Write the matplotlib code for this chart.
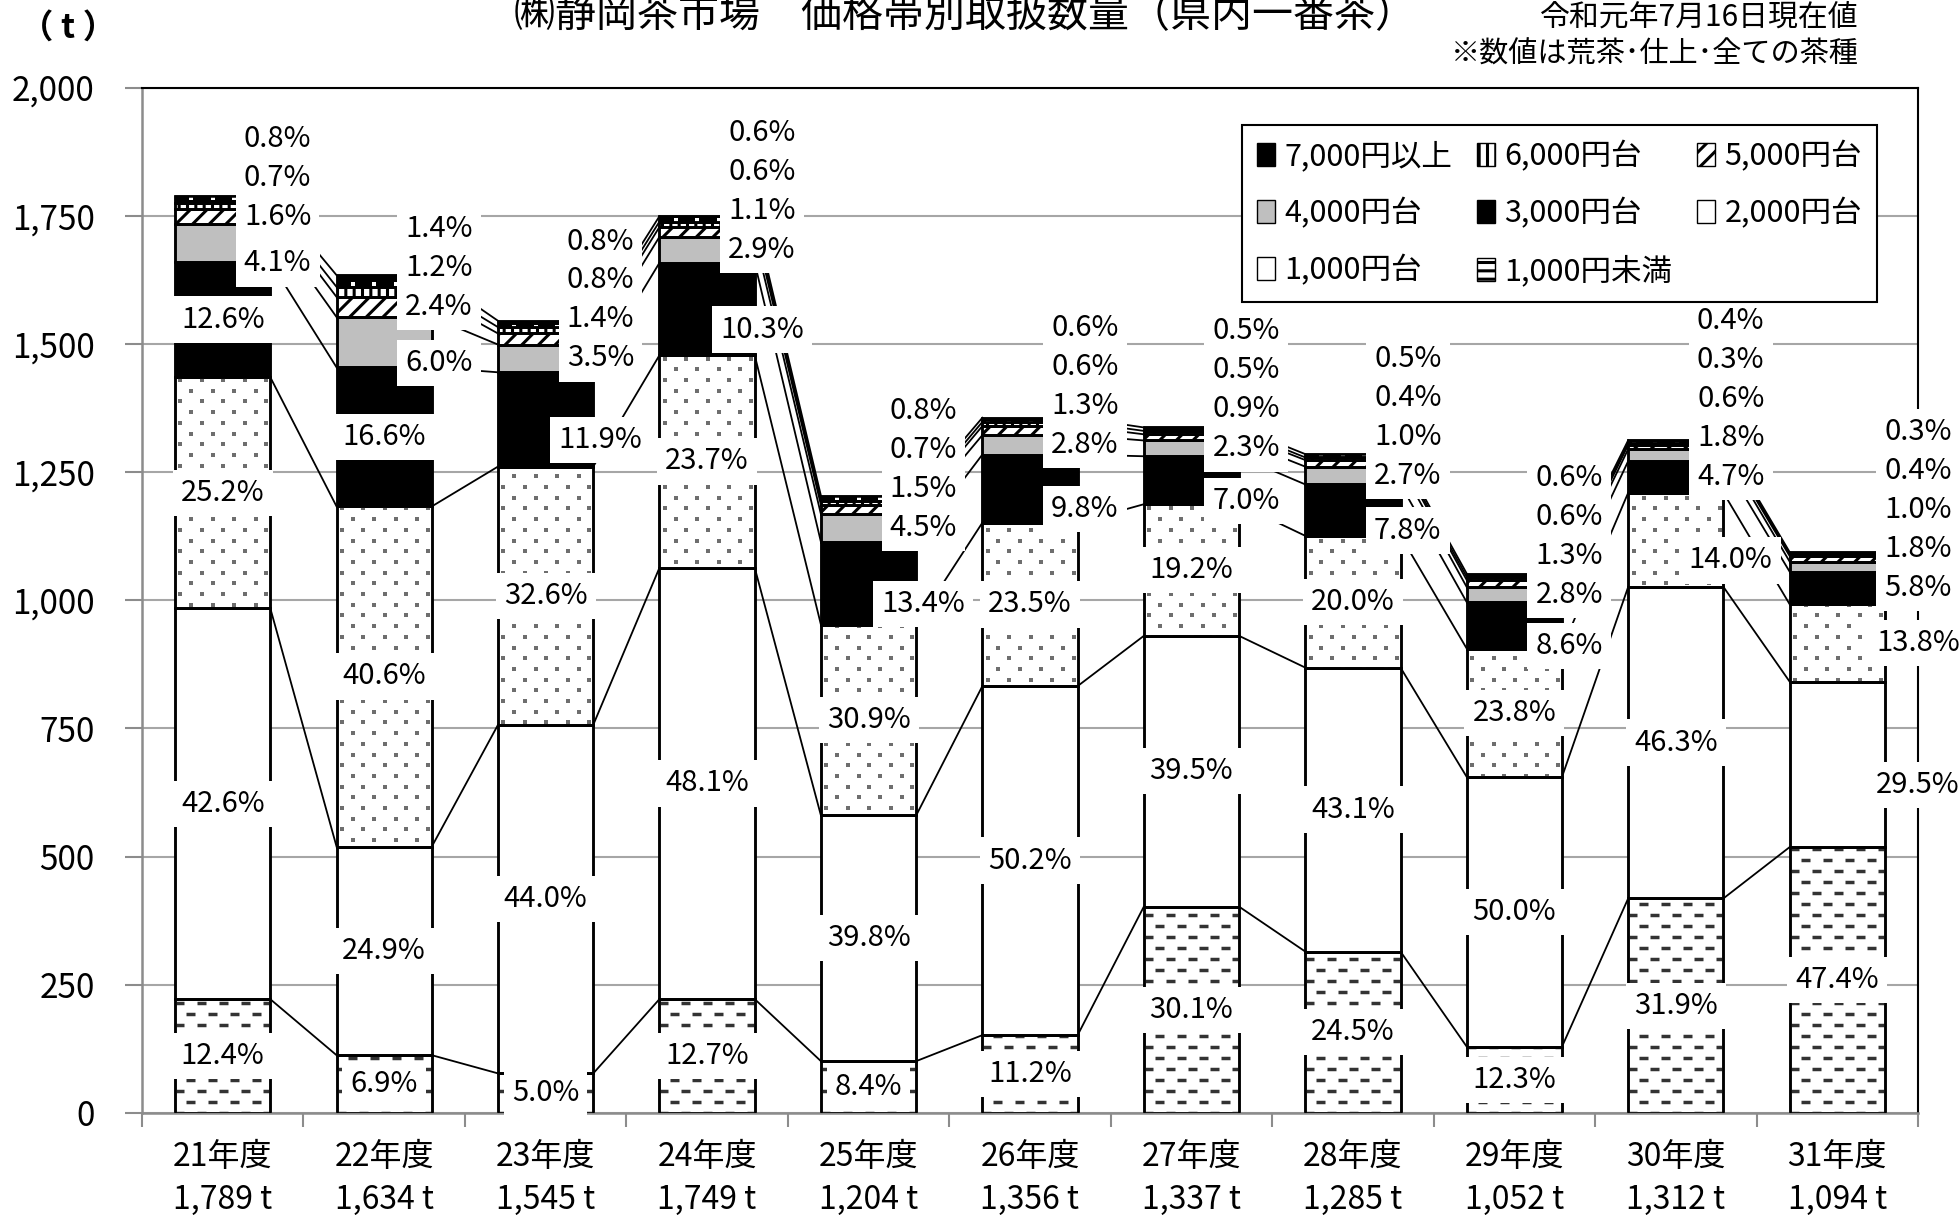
import numpy as np
import matplotlib
matplotlib.use("Agg")
import matplotlib.pyplot as plt
from matplotlib.patches import Patch
from matplotlib.collections import LineCollection

plt.rcParams['font.family'] = ['Noto Sans CJK JP', 'DejaVu Sans']
plt.rcParams['hatch.linewidth'] = 2.2

# --- データ ---
years = ['21年度', '22年度', '23年度', '24年度', '25年度', '26年度',
         '27年度', '28年度', '29年度', '30年度', '31年度']
totals = [1789, 1634, 1545, 1749, 1204, 1356, 1337, 1285, 1052, 1312, 1094]
bands = ['1,000円未満', '1,000円台', '2,000円台', '3,000円台',
         '4,000円台', '5,000円台', '6,000円台', '7,000円以上']

pct_under1000 = [12.4, 6.9, 5.0, 12.7, 8.4, 11.2, 30.1, 24.5, 12.3, 31.9, 47.4]
pct_1000 = [42.6, 24.9, 44.0, 48.1, 39.8, 50.2, 39.5, 43.1, 50.0, 46.3, 29.5]
pct_2000 = [25.2, 40.6, 32.6, 23.7, 30.9, 23.5, 19.2, 20.0, 23.8, 14.0, 13.8]
pct_3000 = [12.6, 16.6, 11.9, 10.3, 13.4, 9.8, 7.0, 7.8, 8.6, 4.7, 5.8]
pct_4000 = [4.1, 6.0, 3.5, 2.9, 4.5, 2.8, 2.3, 2.7, 2.8, 1.8, 1.8]
pct_5000 = [1.6, 2.4, 1.4, 1.1, 1.5, 1.3, 0.9, 1.0, 1.3, 0.6, 1.0]
pct_6000 = [0.7, 1.2, 0.8, 0.6, 0.7, 0.6, 0.5, 0.4, 0.6, 0.3, 0.4]
pct_7000 = [0.8, 1.4, 0.8, 0.6, 0.8, 0.6, 0.5, 0.5, 0.6, 0.4, 0.3]

# 棒の中に表示するラベルの数（下から）、残りは右側に
n_inside = [4, 4, 3, 3, 3, 3, 3, 3, 3, 2, 1]

pcts = np.array([pct_under1000, pct_1000, pct_2000, pct_3000,
                 pct_4000, pct_5000, pct_6000, pct_7000])
tons = pcts / 100.0 * np.array(totals)
tops = np.cumsum(tons, axis=0)
bottoms = tops - tons
n = len(years)
x = np.arange(n)
W = 0.59

# --- 図 ---
fig = plt.figure(figsize=(19.59, 12.15), dpi=100)
ax = fig.add_axes([142 / 1959, 1 - 1113 / 1215, 1776 / 1959, 1025.5 / 1215])
ax.set_xlim(-0.5, 10.5)
ax.set_ylim(0, 2000)

# データ単位/ピクセル
sx = 11 / 1776
sy = 2000 / 1025.5

styles = [
    dict(fc='white', hatch=None),   # 1,000円未満 (破線は別描画)
    dict(fc='white', hatch=None),   # 1,000円台
    dict(fc='white', hatch=None),   # 2,000円台 (点は別描画)
    dict(fc='black', hatch=None),   # 3,000円台
    dict(fc='#bfbfbf', hatch=None), # 4,000円台
    dict(fc='white', hatch='//'),   # 5,000円台
    dict(fc='white', hatch='||'),   # 6,000円台
    dict(fc='black', hatch=None),   # 7,000円以上 (白点は別描画)
]


def dashes(rect, x0, x1, y0, y1):
    row = 11 * sy
    period = 22 * sx
    dash = 9 * sx
    segs = []
    k0 = int(np.ceil(y0 / row))
    k1 = int(np.floor(y1 / row))
    for k in range(k0, k1 + 1):
        off = (k % 2) * period / 2
        xs = x0 - period + off
        while xs < x1:
            segs.append([(xs, k * row), (xs + dash, k * row)])
            xs += period
    lc = LineCollection(segs, colors='#333333', linewidths=2.5, zorder=2.5)
    ax.add_collection(lc)
    lc.set_clip_path(rect)


def dots(rect, x0, x1, y0, y1, color):
    row = 10.7 * sy
    period = 21.5 * sx
    px, py = [], []
    k0 = int(np.floor(y0 / row))
    k1 = int(np.ceil(y1 / row))
    for k in range(k0, k1 + 1):
        off = (k % 2) * period / 2
        xs = x0 - period + off + period / 4
        while xs < x1 + period:
            px.append(xs)
            py.append((k + 0.5) * row)
            xs += period
    sc = ax.scatter(px, py, s=6, marker='s', c=color, linewidths=0, zorder=2.5)
    sc.set_clip_path(rect)


ax.grid(axis='y', color='#a6a6a6', lw=1.5, zorder=0)
ax.set_axisbelow(True)

for s in range(len(bands)):
    st = styles[s]
    bars = ax.bar(x, tons[s], W, bottom=bottoms[s], color=st['fc'],
                  hatch=st['hatch'], edgecolor='black', linewidth=1.8, zorder=2)
    for i, rect in enumerate(bars.patches):
        x0, x1 = i - W / 2, i + W / 2
        if s == 0:
            dashes(rect, x0, x1, bottoms[s][i], tops[s][i])
        elif s == 2:
            dots(rect, x0, x1, bottoms[s][i], tops[s][i], '#6e6e6e')
        elif s == 7:
            dots(rect, x0, x1, bottoms[s][i], tops[s][i], 'white')
    # 輪郭を上から
    ax.bar(x, tons[s], W, bottom=bottoms[s], fill=False, edgecolor='black',
           linewidth=1.8, zorder=3)

# 系列線
for s in range(len(bands)):
    for i in range(n - 1):
        ax.plot([i + W / 2, i + 1 - W / 2], [tops[s][i], tops[s][i + 1]],
                color='black', lw=1.3, zorder=1.5)

# ラベル
box = dict(boxstyle='square,pad=0.28', fc='white', ec='none')
gap = 76
for i in range(n):
    prev = None
    for s in range(len(bands)):
        txt = f'{pcts[s][i]:.1f}%'
        cy = (bottoms[s][i] + tops[s][i]) / 2
        if s < n_inside[i]:
            ax.text(i, cy, txt, ha='center', va='center', fontsize=21,
                    bbox=box, zorder=5)
        else:
            # 右側のラベルは下から順に積み上げる
            y = cy - 40 if prev is None else max(cy, prev + gap)
            prev = y
            dx = 0.5 if i == n - 1 else 0.34
            ax.text(i + dx, y, txt, ha='center', va='center', fontsize=21,
                    bbox=box, zorder=5)

# 軸
ax.set_yticks(np.arange(0, 2001, 250))
ax.set_yticklabels([f'{v:,}' for v in range(0, 2001, 250)])
ax.set_xticks(x)
ax.set_xticklabels([f'{y}\n{t:,} t' for y, t in zip(years, totals)],
                   linespacing=1.45)
ax.set_xticks(np.arange(-0.5, 11, 1), minor=True)
ax.tick_params(axis='x', which='major', length=0, pad=20, labelsize=23)
ax.tick_params(axis='x', which='minor', length=10, width=1.5, color='#8c8c8c')
ax.tick_params(axis='y', length=12, width=1.5, color='#8c8c8c', pad=22,
               labelsize=24)
for side in ['left', 'bottom']:
    ax.spines[side].set_color('#8c8c8c')
    ax.spines[side].set_linewidth(1.8)
for side in ['top', 'right']:
    ax.spines[side].set_color('black')
    ax.spines[side].set_linewidth(1.5)

# 凡例
handles = [
    Patch(fc='black', ec='black', label='7,000円以上'),
    Patch(fc='#bfbfbf', ec='black', label='4,000円台'),
    Patch(fc='white', ec='black', label='1,000円台'),
    Patch(fc='white', ec='black', hatch='||', label='6,000円台'),
    Patch(fc='black', ec='black', label='3,000円台'),
    Patch(fc='white', ec='black', hatch='--', label='1,000円未満'),
    Patch(fc='white', ec='black', hatch='//', label='5,000円台'),
    Patch(fc='white', ec='black', label='2,000円台'),
]
leg = ax.legend(handles=handles, ncol=3, loc='upper right',
                bbox_to_anchor=(0.977, 0.963), borderaxespad=0, fontsize=22,
                frameon=True, fancybox=False, edgecolor='black', framealpha=1,
                handlelength=0.6, handleheight=0.8, handletextpad=0.3,
                columnspacing=0.8, labelspacing=0.85, borderpad=0.5)
leg.get_frame().set_linewidth(1.5)
leg.set_zorder(10)

# タイトル・注記
fig.text(0.4925, 1 - 16 / 1215, '㈱静岡茶市場　価格帯別取扱数量（県内一番茶）',
         ha='center', va='center', fontsize=29.5)
fig.text(68 / 1959, 1 - 28 / 1215, '（ t ）', ha='center', va='center',
         fontsize=24, fontweight='bold')
fig.text(1859 / 1959, 1 - 17 / 1215, '令和元年7月16日現在値', ha='right',
         va='center', fontsize=21.5)
fig.text(1859 / 1959, 1 - 55 / 1215, '※数値は荒茶･仕上･全ての茶種', ha='right',
         va='center', fontsize=21)

fig.savefig('out.png', dpi=100)
